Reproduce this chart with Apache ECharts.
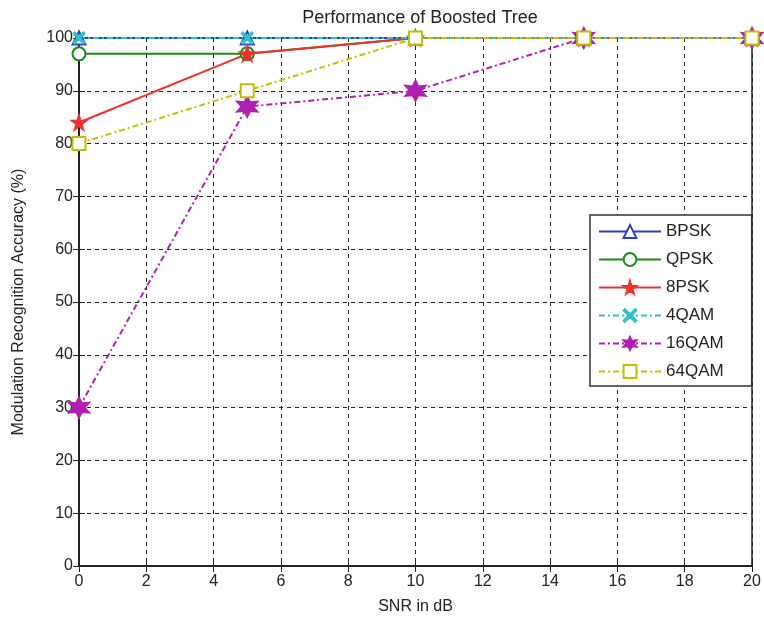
<!DOCTYPE html>
<html><head><meta charset="utf-8">
<script src="https://cdn.jsdelivr.net/npm/echarts@6/dist/echarts.min.js"></script>
<style>html,body{margin:0;padding:0;background:#fff}#c{width:764px;height:626px}</style>
</head><body><div id="c"></div>
<script>
const snr = [0, 5, 10, 15, 20];
const bpsk = [100, 100, 100, 100, 100];
const qpsk = [97, 97, 100, 100, 100];
const psk8 = [84, 97, 100, 100, 100];
const qam4 = [100, 100, 100, 100, 100];
const qam16 = [30, 87, 90, 100, 100];
const qam64 = [80, 90, 100, 100, 100];
const names = ['BPSK', 'QPSK', '8PSK', '4QAM', '16QAM', '64QAM'];
const xTicks = [0, 2, 4, 6, 8, 10, 12, 14, 16, 18, 20];
const yTicks = [0, 10, 20, 30, 40, 50, 60, 70, 80, 90, 100];

const FONT = '"Liberation Sans", Arial, sans-serif';
const starPath = 'path://M50,0 L61,35 L98,35 L68,57 L79,91 L50,70 L21,91 L32,57 L2,35 L39,35 Z';
const xPath = 'path://M0,10 L10,0 L50,40 L90,0 L100,10 L60,50 L100,90 L90,100 L50,60 L10,100 L0,90 L40,50 Z';
const hexPath = 'path://M50,0 L62,28 L93,25 L74,50 L93,75 L62,72 L50,100 L38,72 L7,75 L26,50 L7,25 L38,28 Z';

function pts(arr){ return snr.map((x,i)=>[x, arr[i]]); }

const series = [
  {name:'BPSK', data:pts(bpsk), color:'#3040c0', type:'solid', symbol:'emptyTriangle', size:13},
  {name:'QPSK', data:pts(qpsk), color:'#1a8a1a', type:'solid', symbol:'emptyCircle', size:13},
  {name:'8PSK', data:pts(psk8), color:'#f03030', type:'solid', symbol:starPath, size:14},
  {name:'4QAM', data:pts(qam4), color:'#30c0c8', type:[6,3,2,3], symbol:xPath, size:11},
  {name:'16QAM', data:pts(qam16), color:'#b020b0', type:[6,3,2,3], symbol:hexPath, size:20},
  {name:'64QAM', data:pts(qam64), color:'#c0c000', type:[6,3,2,3], symbol:'emptyRect', size:13}
].map(s => ({
  name: s.name, type: 'line', data: s.data, symbol: s.symbol, symbolSize: s.size,
  showAllSymbol: true, animation: false,
  lineStyle: {color: s.color, width: 2, type: s.type},
  itemStyle: {color: s.color, borderColor: s.color, borderWidth: 2},
  emphasis: {disabled: true}
}));

const chart = echarts.init(document.getElementById('c'), null, {renderer:'canvas'});
chart.setOption({
  backgroundColor: '#fff',
  animation: false,
  title: {text: 'Performance of Boosted Tree', left: 415, top: 4, textAlign: 'center',
    textStyle: {fontFamily: FONT, fontSize: 18, fontWeight: 'normal', color: '#222'}},
  grid: {left: 79, right: 12, top: 38, bottom: 60, show: true, borderColor: '#222', borderWidth: 1.5},
  legend: {
    orient: 'vertical', left: 590, top: 215,
    backgroundColor: '#fff', borderColor: '#333', borderWidth: 1.5, borderRadius: 0,
    padding: [8, 28, 6, 8], itemGap: 11, itemWidth: 62, itemHeight: 16,
    textStyle: {fontFamily: FONT, fontSize: 17, color: '#222'},
    data: names
  },
  xAxis: [{
    type: 'value', min: 0, max: 20, interval: 2,
    name: 'SNR in dB', nameLocation: 'middle', nameGap: 33,
    nameTextStyle: {fontFamily: FONT, fontSize: 16, color: '#222'},
    axisLine: {show: true, lineStyle: {color: '#222', width: 1.5}},
    axisTick: {show: true, inside: true, length: 6, lineStyle: {color: '#222'}},
    axisLabel: {fontFamily: FONT, fontSize: 16, color: '#222', margin: 8},
    splitLine: {show: true, lineStyle: {color: '#222', type: [4, 4], width: 1}}
  }, {
    type: 'value', min: 0, max: 20, interval: 2, position: 'top',
    axisLine: {show: true, lineStyle: {color: '#222', width: 1.5}},
    axisTick: {show: true, inside: true, length: 6, lineStyle: {color: '#222'}},
    axisLabel: {show: false}, splitLine: {show: false}
  }],
  yAxis: [{
    type: 'value', min: 0, max: 100, interval: 10,
    name: 'Modulation Recognition Accuracy (%)', nameLocation: 'middle', nameGap: 52,
    nameTextStyle: {fontFamily: FONT, fontSize: 16, color: '#222'},
    axisLine: {show: true, lineStyle: {color: '#222', width: 1.5}},
    axisTick: {show: true, inside: true, length: 6, lineStyle: {color: '#222'}},
    axisLabel: {fontFamily: FONT, fontSize: 16, color: '#222', margin: 6},
    splitLine: {show: true, lineStyle: {color: '#222', type: [4, 4], width: 1}}
  }, {
    type: 'value', min: 0, max: 100, interval: 10, position: 'right',
    axisLine: {show: true, lineStyle: {color: '#222', width: 1.5}},
    axisTick: {show: true, inside: true, length: 6, lineStyle: {color: '#222'}},
    axisLabel: {show: false}, splitLine: {show: false}
  }],
  series: series
});
</script></body></html>
